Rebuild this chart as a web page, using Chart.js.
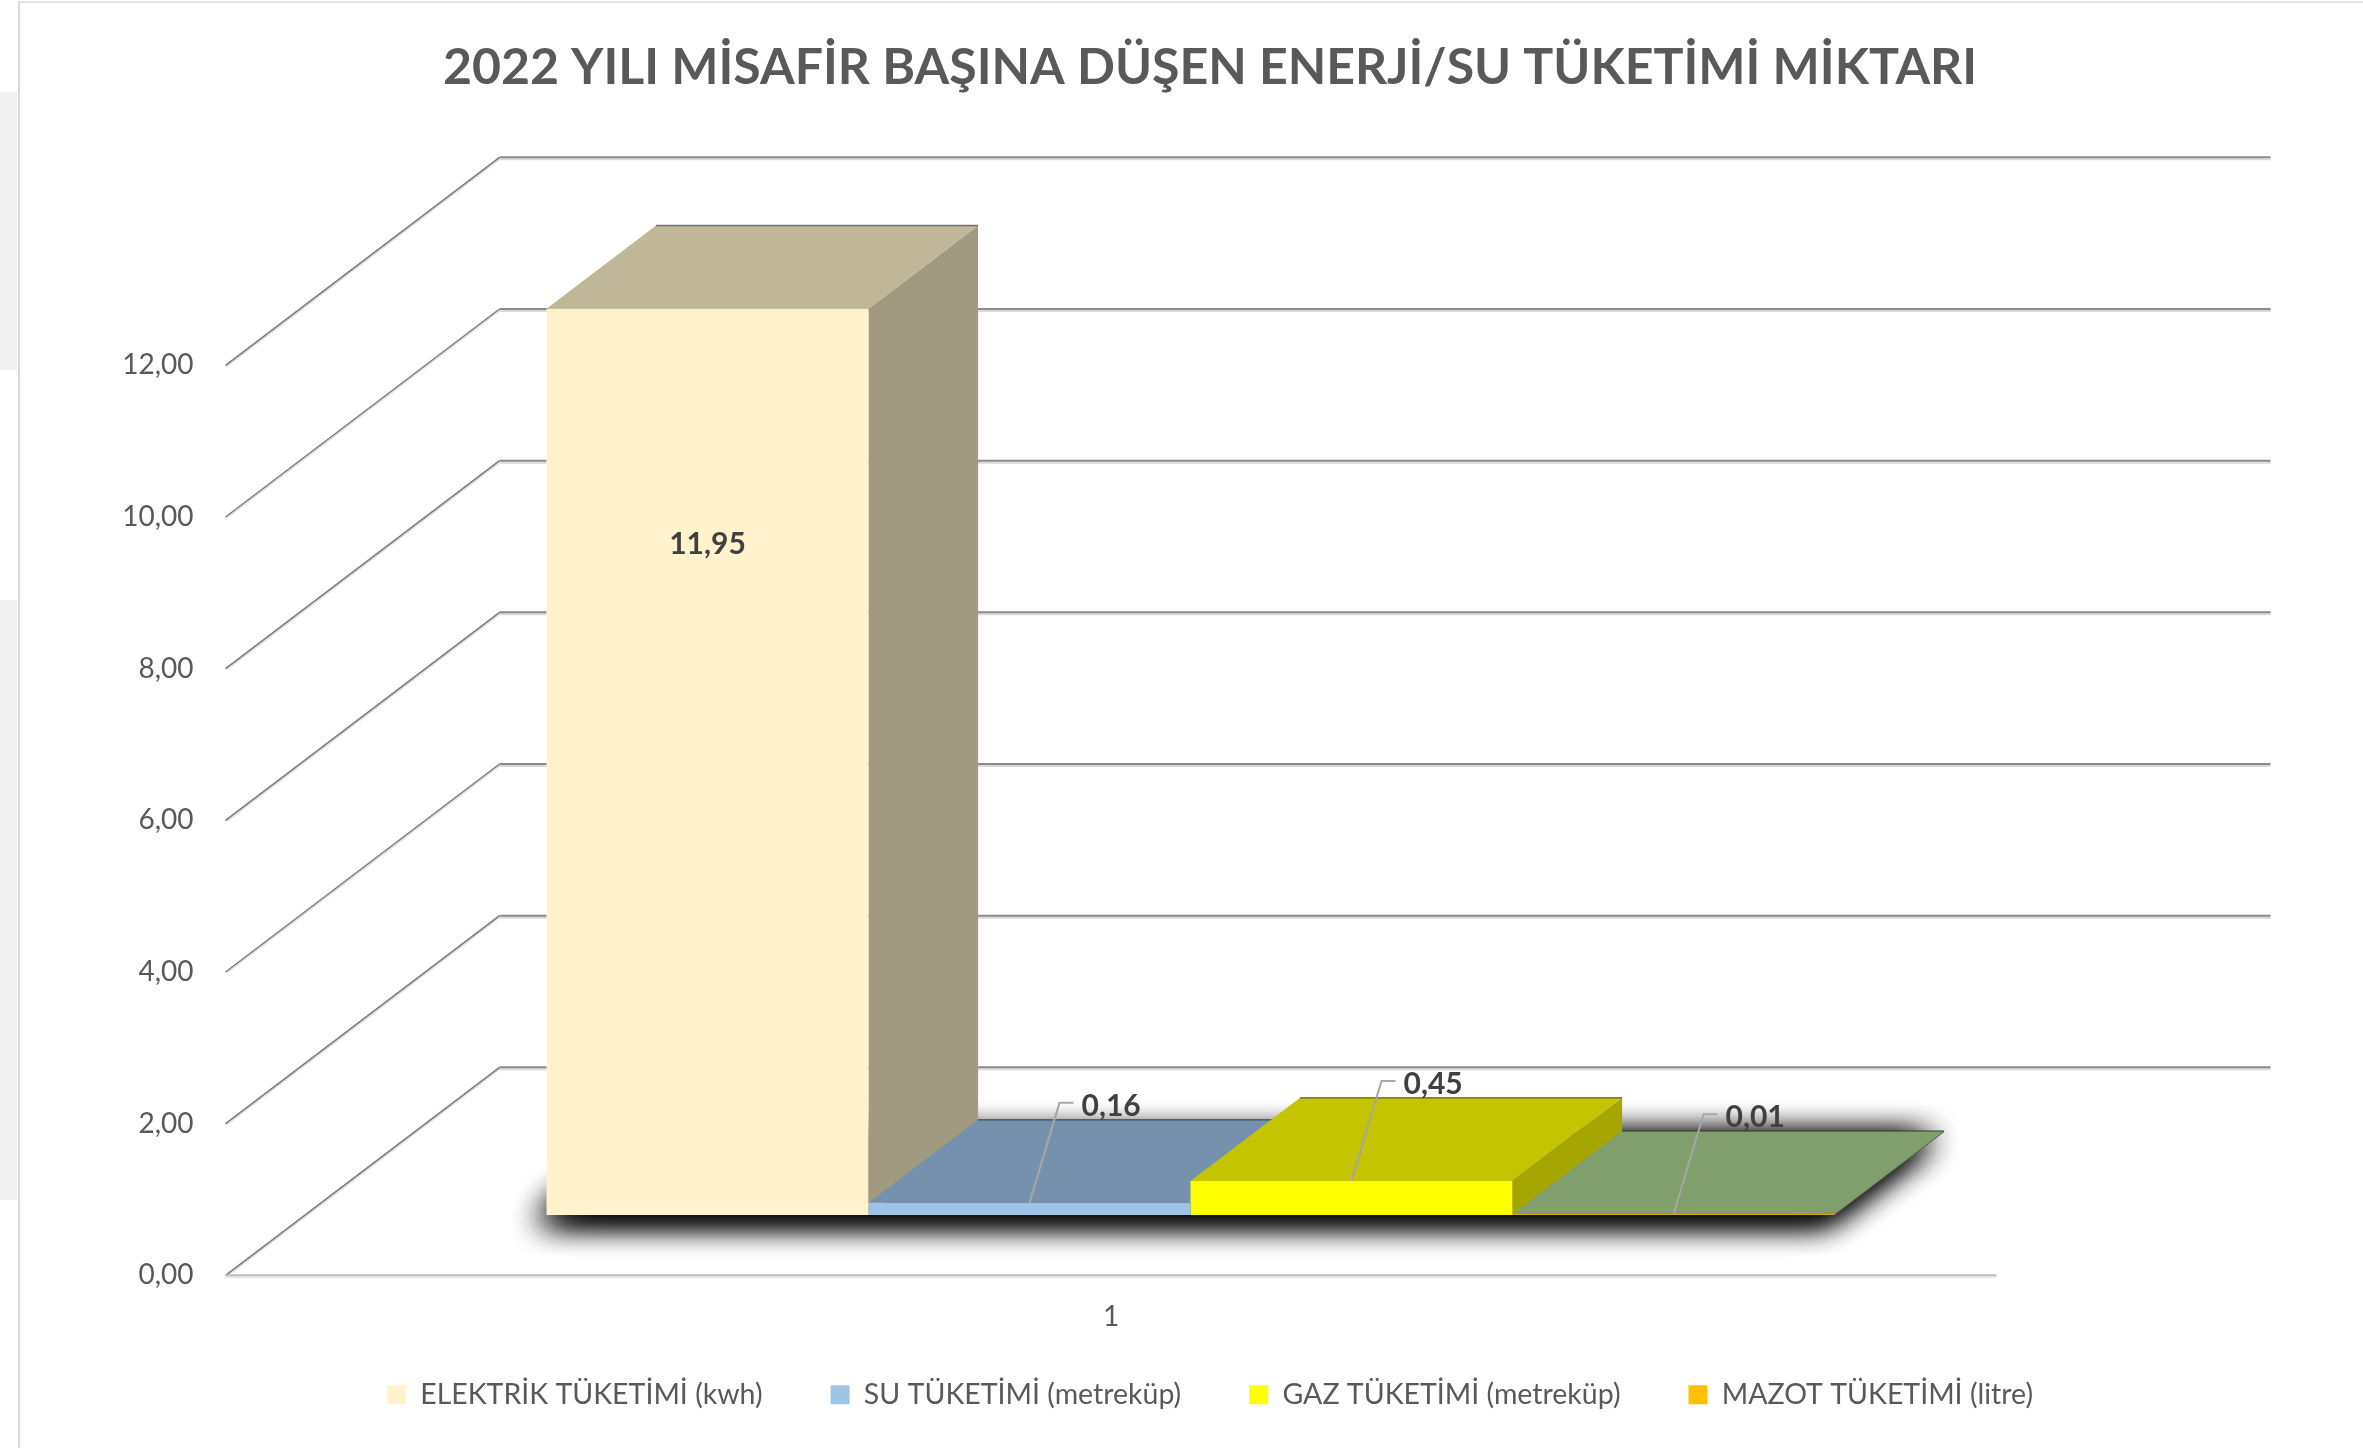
<!DOCTYPE html>
<html>
<head>
<meta charset="utf-8">
<script src="https://cdn.jsdelivr.net/npm/chart.js@4"></script>
<style>
  html, body { margin: 0; padding: 0; background: #fff; }
  body { width: 2363px; height: 1448px; position: relative; overflow: hidden; }
  #frame { position: absolute; left: 18px; top: 1px; right: 0; bottom: 0; border-left: 2px solid #d9d9d9; border-top: 2px solid #e3e3e3; }
  .strip { position: absolute; left: 0; width: 17px; background: #f1f1f1; }
  canvas { position: absolute; left: 0; top: 0; }
</style>
</head>
<body>
<div class="strip" style="top:92px;height:278px"></div>
<div class="strip" style="top:600px;height:600px"></div>
<div id="frame"></div>
<canvas id="myChart" width="2363" height="1448"></canvas>
<script>
const title = '2022 YILI MİSAFİR BAŞINA DÜŞEN ENERJİ/SU TÜKETİMİ MİKTARI';
const categories = ['1'];
const seriesNames = ['ELEKTRİK TÜKETİMİ (kwh)', 'SU TÜKETİMİ (metreküp)', 'GAZ TÜKETİMİ (metreküp)', 'MAZOT TÜKETİMİ (litre)'];
const seriesValues = [11.95, 0.16, 0.45, 0.01];
const yMin = 0, yMax = 12, yStep = 2;

// colours of the faces: front (also legend), top, side
const frontColors = ['#FFF2CC', '#9DC3E6', '#FFFF00', '#FFC000'];
const topColors = ['#C0B799', '#7591AE', '#C4C400', '#809F6C'];
const sideColors = ['#A29A80', '#5F7B98', '#A6A600', '#6B8A58'];

// fake 3d: depth of the floor, where the bars sit in it
const DEPTH_X = 274, DEPTH_Y = -208;
const BAR_FRONT = 0.29, BAR_DEPTH = 0.4;
const FONT = 'Lato';

const fmt = v => v.toFixed(2).replace('.', ',');

function poly(ctx, pts, fill) {
    ctx.beginPath();
    ctx.moveTo(pts[0][0], pts[0][1]);
    for (let i = 1; i < pts.length; i++) ctx.lineTo(pts[i][0], pts[i][1]);
    ctx.closePath();
    ctx.fillStyle = fill;
    ctx.fill();
}

function line(ctx, x1, y1, x2, y2, color, w) {
    ctx.beginPath();
    ctx.moveTo(x1, y1);
    ctx.lineTo(x2, y2);
    ctx.strokeStyle = color;
    ctx.lineWidth = w;
    ctx.stroke();
}

function barBox(chart, i) {
    const b = chart.getDatasetMeta(i).data[0].getProps(['x', 'y', 'base', 'width'], true);
    return {L: b.x - b.width / 2, R: b.x + b.width / 2, T: b.y, B: b.base, cx: b.x};
}

const threeD = {
    id: 'threeD',
    beforeDatasetsDraw(chart) {
        const {ctx, chartArea: a, scales: {y}} = chart;
        const fx = -BAR_FRONT * DEPTH_X, fy = -BAR_FRONT * DEPTH_Y;
        const bx = (1 - BAR_FRONT) * DEPTH_X, by = (1 - BAR_FRONT) * DEPTH_Y;
        ctx.save();

        // walls: back gridlines, side diagonals, tick labels on the front edge
        ctx.font = '28px ' + FONT;
        ctx.fillStyle = '#595959';
        ctx.textAlign = 'right';
        ctx.textBaseline = 'middle';
        y.ticks.forEach(t => {
            const py = y.getPixelForValue(t.value);
            line(ctx, a.left + bx, py + by + 2, a.right + bx, py + by + 2, '#d9d9d9', 2);
            line(ctx, a.left + bx, py + by, a.right + bx, py + by, '#8a8a8a', 2);
            line(ctx, a.left + fx + 1, py + fy + 1, a.left + bx + 1, py + by + 1, '#dcdcdc', 1.5);
            line(ctx, a.left + fx, py + fy, a.left + bx, py + by, '#7a7a7a', 1.5);
            ctx.fillText(fmt(t.value), a.left + fx - 32, py + fy);
        });
        const y0 = y.getPixelForValue(yMin);
        line(ctx, a.left + fx, y0 + fy + 2, a.right + fx, y0 + fy + 2, '#e6e6e6', 2);
        line(ctx, a.left + fx, y0 + fy, a.right + fx, y0 + fy, '#bdbdbd', 2);

        const dx = BAR_DEPTH * DEPTH_X, dy = BAR_DEPTH * DEPTH_Y;
        const n = chart.data.datasets.length;
        const first = barBox(chart, 0), last = barBox(chart, n - 1);

        // soft shadow under the bars
        const foot = [[first.L, first.B], [last.R, last.B], [last.R + dx, last.B + dy], [first.L + dx, first.B + dy]];
        ctx.save();
        ctx.shadowColor = 'rgba(0,0,0,0.9)';
        ctx.shadowBlur = 32;
        ctx.shadowOffsetX = -10;
        ctx.shadowOffsetY = 6;
        for (let k = 0; k < 3; k++) poly(ctx, foot, '#444');
        ctx.restore();

        for (let i = 0; i < n; i++) {
            const b = barBox(chart, i);
            poly(ctx, [[b.R, b.T], [b.R + dx, b.T + dy], [b.R + dx, b.B + dy], [b.R, b.B]], sideColors[i]);
        }
        for (let i = 0; i < n; i++) {
            const b = barBox(chart, i);
            poly(ctx, [[b.L, b.T], [b.R, b.T], [b.R + dx, b.T + dy], [b.L + dx, b.T + dy]], topColors[i]);
            line(ctx, b.L + dx, b.T + dy, b.R + dx, b.T + dy, 'rgba(40,40,40,0.6)', 1.5);
        }
        ctx.restore();
    },
    afterDatasetsDraw(chart) {
        const {ctx, scales: {x, y}} = chart;
        const fx = -BAR_FRONT * DEPTH_X, fy = -BAR_FRONT * DEPTH_Y;
        ctx.save();
        ctx.textBaseline = 'middle';

        chart.data.datasets.forEach((ds, i) => {
            const b = barBox(chart, i);
            ctx.font = 'bold 30px ' + FONT;
            ctx.fillStyle = '#404040';
            if (b.B - b.T > 60) {
                ctx.textAlign = 'center';
                ctx.fillText(fmt(ds.data[0]), b.cx, b.T + (b.B - b.T) * 0.26);
            } else {
                // leader line to the label
                const tx = b.cx + 30, ty = b.T - 100;
                ctx.beginPath();
                ctx.moveTo(b.cx, b.T);
                ctx.lineTo(tx, ty);
                ctx.lineTo(tx + 14, ty);
                ctx.strokeStyle = '#a6a6a6';
                ctx.lineWidth = 2;
                ctx.stroke();
                ctx.textAlign = 'left';
                ctx.fillText(fmt(ds.data[0]), tx + 22, ty + 3);
            }
        });

        // category label on the front edge
        ctx.font = '28px ' + FONT;
        ctx.fillStyle = '#595959';
        ctx.textAlign = 'center';
        const y0 = y.getPixelForValue(yMin);
        x.ticks.forEach((t, i) => {
            ctx.fillText(categories[i], x.getPixelForTick(i) + fx, y0 + fy + 42);
        });
        ctx.restore();
    }
};

const ctx = document.getElementById('myChart').getContext('2d');

let chart = new Chart(ctx, {
    type: 'bar',
    data: {
        labels: categories,
        datasets: seriesNames.map((name, i) => ({
            label: name,
            data: [seriesValues[i]],
            backgroundColor: frontColors[i],
            borderWidth: 0
        }))
    },
    options: {
        responsive: false,
        animation: false,
        categoryPercentage: 0.7273,
        barPercentage: 1,
        layout: { padding: { left: 305, right: 248, top: 0, bottom: 29 } },
        plugins: {
            title: {
                display: true,
                text: title,
                color: '#595959',
                font: { family: FONT, size: 50, weight: 'bold' },
                padding: { top: 38, bottom: 207 }
            },
            legend: {
                position: 'bottom',
                labels: {
                    boxWidth: 19,
                    boxHeight: 19,
                    padding: 68,
                    color: '#595959',
                    font: { family: FONT, size: 28.5 }
                }
            },
            tooltip: { enabled: false }
        },
        scales: {
            x: {
                grid: { display: false, drawTicks: false },
                border: { display: false },
                ticks: { display: false },
                afterFit: s => { s.height = 97.5; }
            },
            y: {
                position: 'right',
                min: yMin,
                max: yMax,
                ticks: { stepSize: yStep, display: false },
                grid: { display: false, drawTicks: false },
                border: { display: false },
                afterFit: s => { s.width = 39; }
            }
        }
    },
    plugins: [threeD]
});
</script>
</body>
</html>
